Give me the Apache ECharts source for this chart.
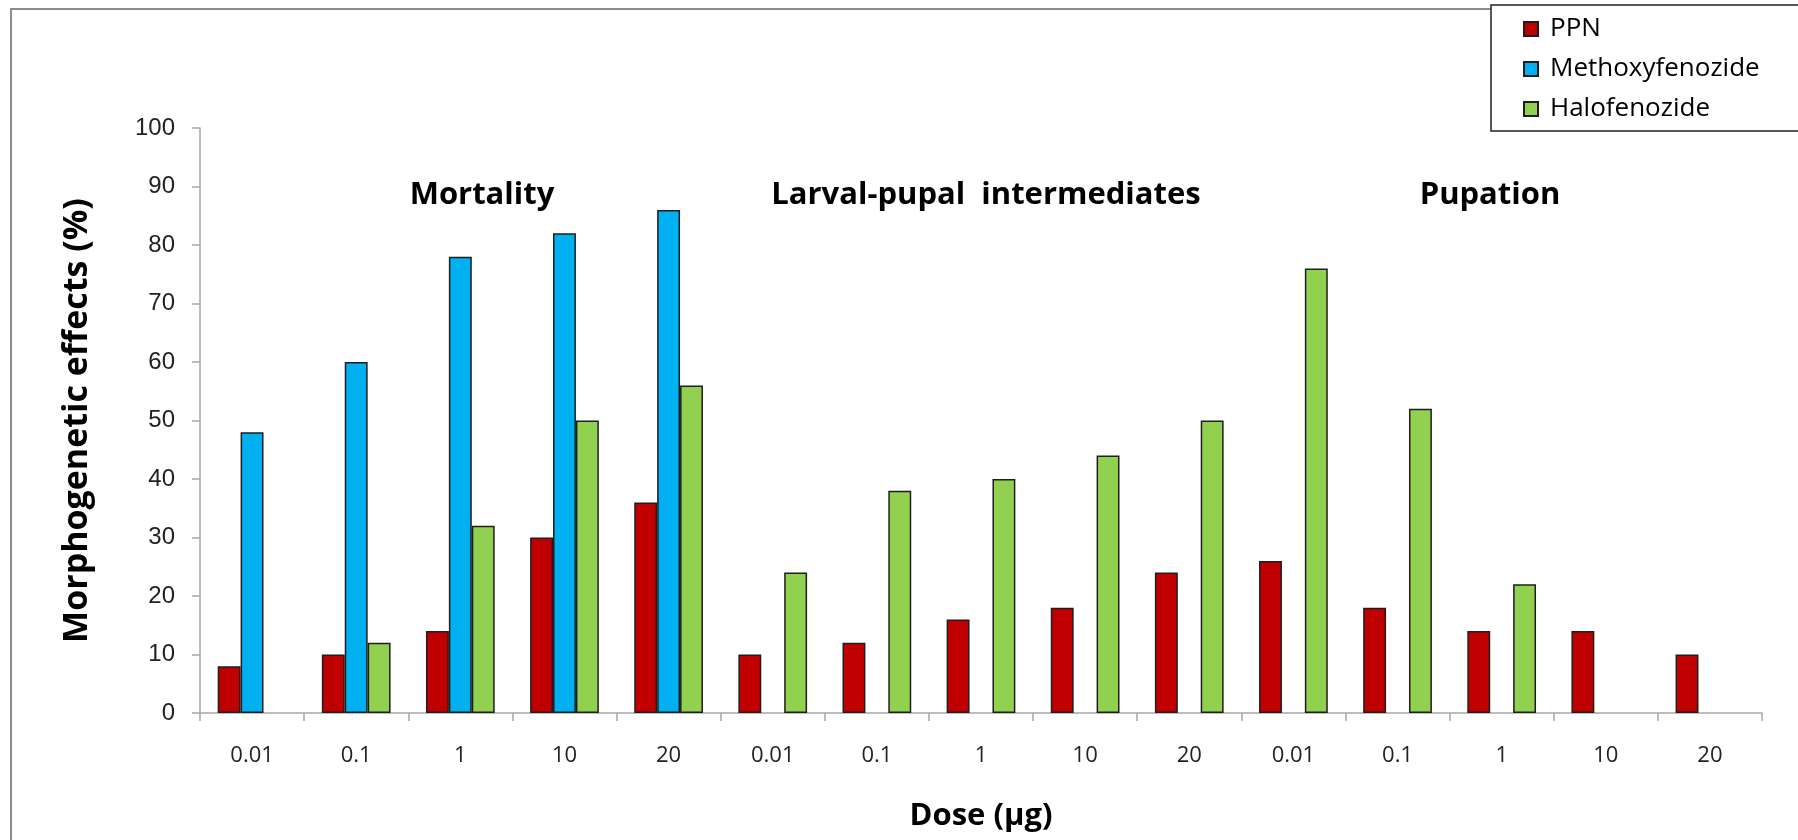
<!DOCTYPE html>
<html>
<head>
<meta charset="utf-8">
<style>
  html, body { margin: 0; padding: 0; background: #fff; }
  #chart { width: 1798px; height: 840px; }
</style>
<script src="https://cdn.jsdelivr.net/npm/echarts@6/dist/echarts.min.js"></script>
</head>
<body>
<div id="chart"></div>
<script>
// Dose levels, repeated for each of the three effect groups
const doses = ['0.01', '0.1', '1', '10', '20'];
const groups = ['Mortality', 'Larval-pupal  intermediates', 'Pupation'];
const categories = [].concat(doses, doses, doses);

// Morphogenetic effects (%) per compound, in category order
const ppn = [8, 10, 14, 30, 36,   10, 12, 16, 18, 24,   26, 18, 14, 14, 10];
const methoxyfenozide = [48, 60, 78, 82, 86,   null, null, null, null, null,   null, null, null, null, null];
const halofenozide = [null, 12, 32, 50, 56,   24, 38, 40, 44, 50,   76, 52, 22, null, null];

const yTicks = [0, 10, 20, 30, 40, 50, 60, 70, 80, 90, 100];

const chart = echarts.init(document.getElementById('chart'));

const barBorder = { borderColor: '#1e1e1e', borderWidth: 1.5 };
const axisGray = '#a6a6a6';
const headingStyle = { fontFamily: 'Open Sans', fontWeight: 'bold', fontSize: 31, fill: '#000',
  align: 'center', verticalAlign: 'middle' };

function barSeries(name, data, color) {
  return {
    name: name,
    type: 'bar',
    data: data,
    barGap: '0%',
    barCategoryGap: '34%',
    itemStyle: Object.assign({ color: color }, barBorder)
  };
}

chart.setOption({
  animation: false,
  backgroundColor: '#fff',
  grid: { left: 200, right: 36, top: 128, bottom: 127, containLabel: false },
  legend: {
    orient: 'vertical',
    left: 1523,
    top: 15,
    padding: 0,
    itemWidth: 14,
    itemHeight: 14,
    itemGap: 12,
    icon: 'rect',
    textStyle: { fontFamily: 'Open Sans', fontSize: 26, lineHeight: 28, color: '#000', padding: [0, 0, 0, 7] },
    data: ['PPN', 'Methoxyfenozide', 'Halofenozide']
  },
  xAxis: {
    type: 'category',
    data: categories,
    name: 'Dose (µg)',
    nameLocation: 'middle',
    nameGap: 88,
    nameTextStyle: { fontFamily: 'Open Sans', fontWeight: 'bold', fontSize: 31, color: '#000' },
    axisLine: { lineStyle: { color: axisGray, width: 1.5 } },
    axisTick: { show: true, length: 8, lineStyle: { color: axisGray, width: 1.5 } },
    axisLabel: { fontFamily: 'Open Sans', fontSize: 22, color: '#222', margin: 32, interval: 0 }
  },
  yAxis: {
    type: 'value',
    min: 0,
    max: 100,
    interval: 10,
    name: 'Morphogenetic effects (%)',
    nameLocation: 'middle',
    nameRotate: 90,
    nameGap: 106,
    nameTextStyle: { fontFamily: 'Open Sans', fontWeight: 'bold', fontSize: 34, color: '#000' },
    axisLine: { show: true, lineStyle: { color: axisGray, width: 1.5 } },
    axisTick: { show: true, inside: false, length: 8, lineStyle: { color: axisGray, width: 1.5 } },
    splitLine: { show: false },
    axisLabel: {
      fontFamily: 'Liberation Sans', fontSize: 24, color: '#222', margin: 25,
      formatter: function (v) { return yTicks.indexOf(v) >= 0 ? String(v) : ''; }
    }
  },
  graphic: [
    // outer frame of the chart area
    { type: 'rect', z: -10, shape: { x: 11, y: 9, width: 1900, height: 900 },
      style: { fill: null, stroke: '#8c8c8c', lineWidth: 2 } },
    // legend box
    { type: 'rect', z: 0, shape: { x: 1491, y: 5, width: 400, height: 126 },
      style: { fill: '#fff', stroke: '#222', lineWidth: 1.5 } },
    // group headings
    { type: 'text', z: 10, x: 482, y: 195, style: Object.assign({ text: groups[0] }, headingStyle) },
    { type: 'text', z: 10, x: 986, y: 195, style: Object.assign({ text: groups[1] }, headingStyle) },
    { type: 'text', z: 10, x: 1490, y: 195, style: Object.assign({ text: groups[2] }, headingStyle) }
  ],
  series: [
    barSeries('PPN', ppn, '#c00000'),
    barSeries('Methoxyfenozide', methoxyfenozide, '#00b0f0'),
    barSeries('Halofenozide', halofenozide, '#92d050')
  ]
});
</script>
</body>
</html>
